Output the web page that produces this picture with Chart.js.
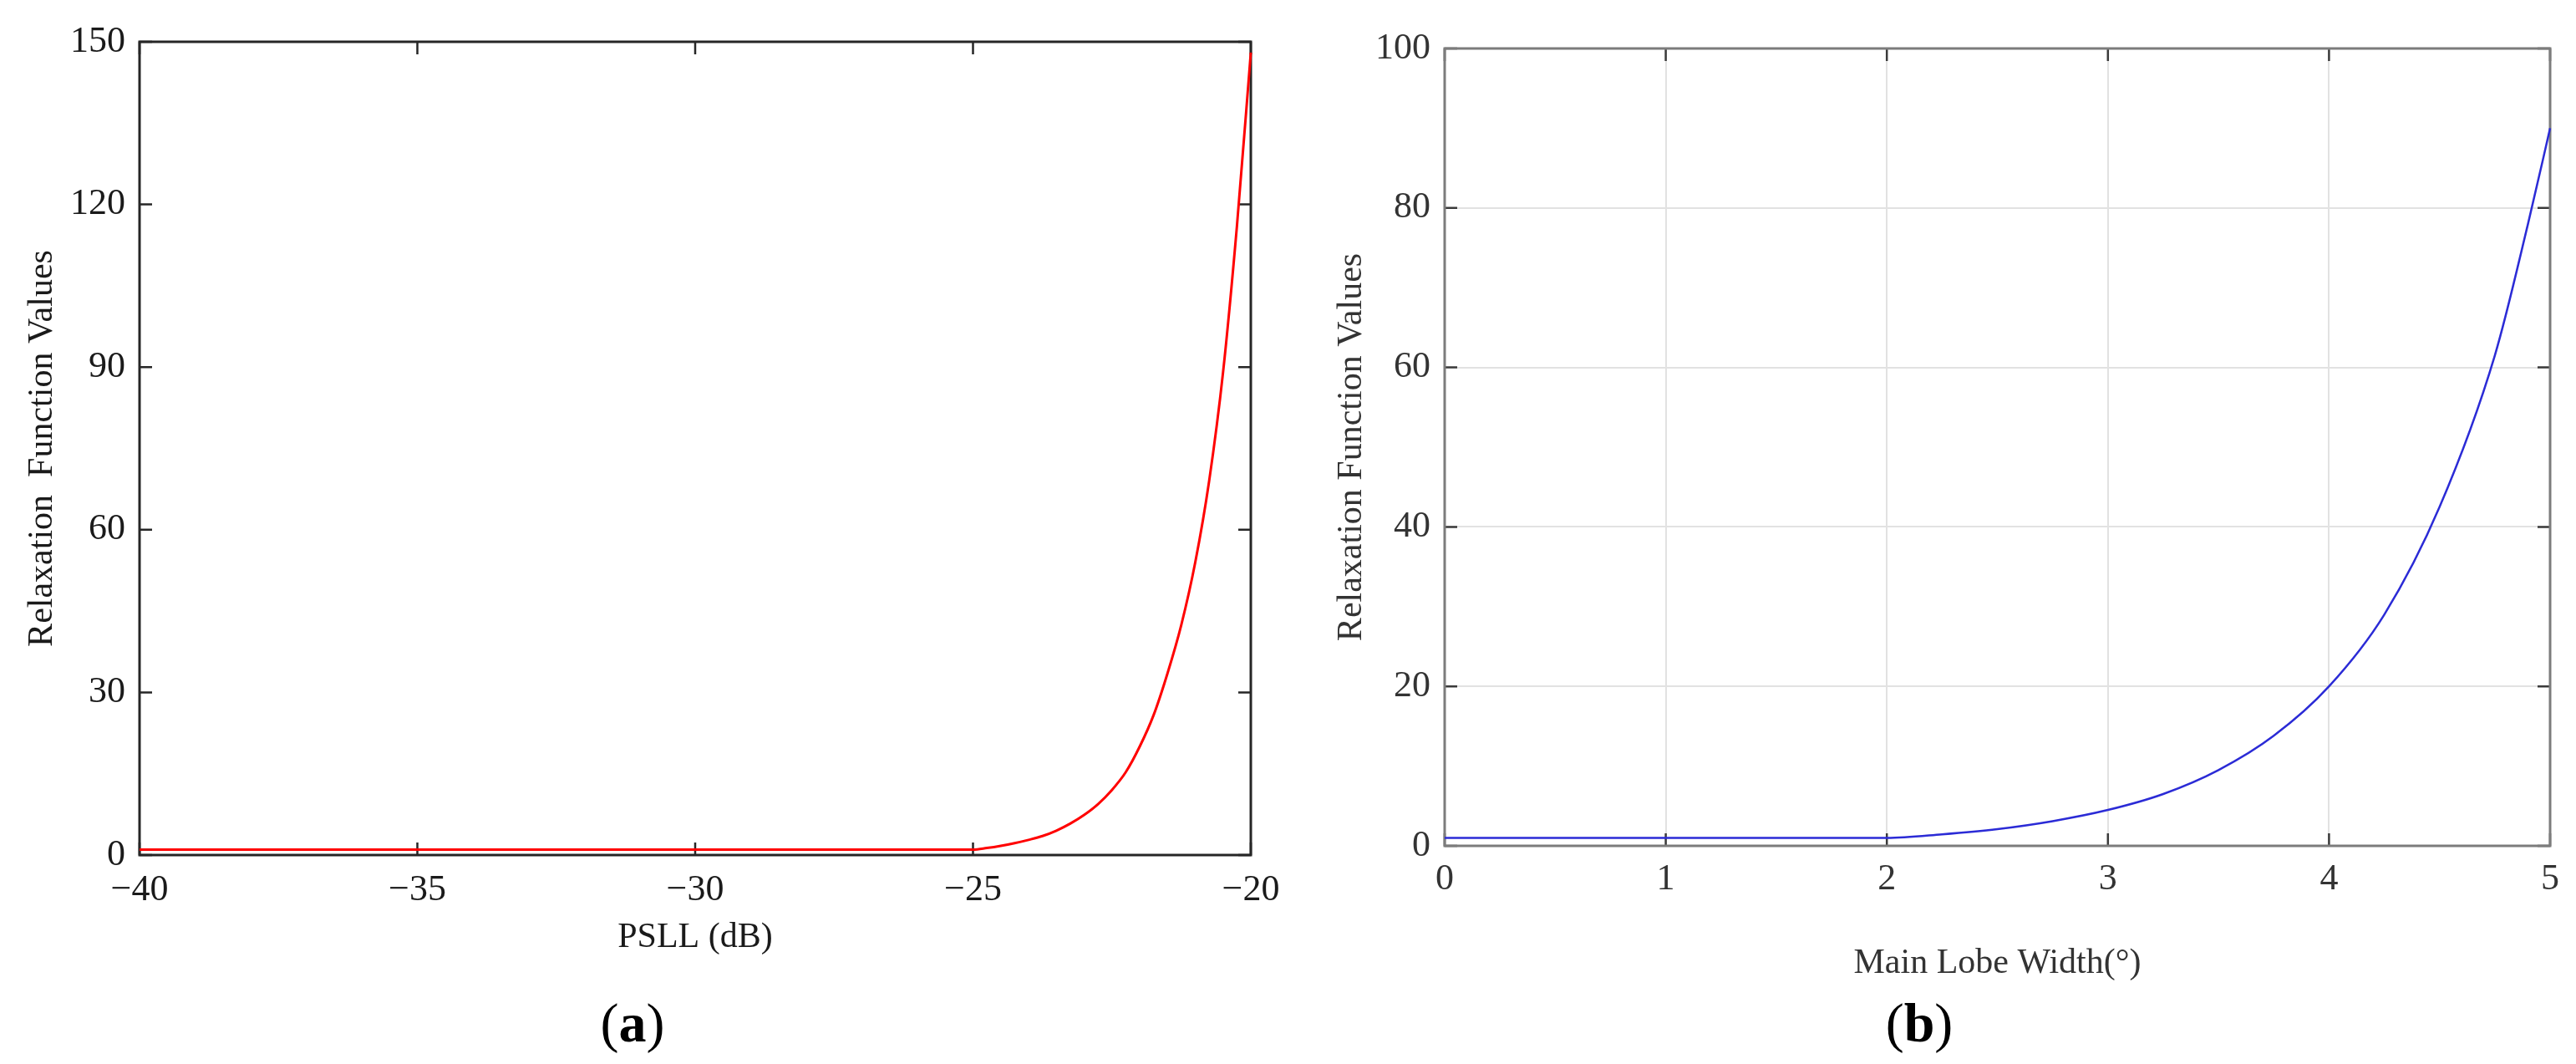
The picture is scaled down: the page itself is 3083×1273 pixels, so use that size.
<!DOCTYPE html>
<html>
<head>
<meta charset="utf-8">
<script src="https://cdn.jsdelivr.net/npm/chart.js@4.4.0/dist/chart.umd.min.js"></script>
<style>
  body { margin: 0; background: #fff; }
  #page { position: relative; width: 3083px; height: 1273px; overflow: hidden; background: #fff; }
  canvas { position: absolute; top: 0; }
  #chartA { left: 0; }
  #chartB { left: 1540px; }
  .tag { position: absolute; top: 1186px; font-family: 'Liberation Serif', serif; font-size: 66px; line-height: 76px; color: #000; transform: translateX(-50%); }
  .tag b { font-weight: bold; }
</style>
</head>
<body>
<div id="page">
  <canvas id="chartA" width="1540" height="1273"></canvas>
  <canvas id="chartB" width="1543" height="1273"></canvas>
  <div class="tag" style="left:757px">(<b>a</b>)</div>
  <div class="tag" style="left:2297px">(<b>b</b>)</div>
</div>
<script>
// (a) relaxation value vs PSLL
const psll   = [-40, -35, -30, -25, -24.75, -24.5, -24.25, -24, -23.75, -23.5, -23.25, -23, -22.75, -22.5, -22.25, -22, -21.75, -21.5, -21.25, -21, -20.75, -20.5, -20.25, -20];
const relaxA = [1, 1, 1, 1, 1.3, 1.7, 2.2, 2.8, 3.5, 4.5, 5.8, 7.4, 9.4, 12.0, 15.3, 20, 25.8, 33.5, 42.5, 54, 69, 89, 116, 148];
const xTicksA = [-40, -35, -30, -25, -20];
const yTicksA = [0, 30, 60, 90, 120, 150];

// (b) relaxation value vs main lobe width
const lobeWidth = [0, 1, 2, 2.25, 2.5, 2.75, 3, 3.25, 3.5, 3.75, 4, 4.25, 4.5, 4.75, 4.9, 5];
const relaxB    = [1, 1, 1, 1.45, 2.1, 3.1, 4.5, 6.5, 9.5, 13.8, 20, 29, 42.5, 61.5, 78, 90];
const xTicksB = [0, 1, 2, 3, 4, 5];
const yTicksB = [0, 20, 40, 60, 80, 100];

const serif = "'Liberation Serif', 'Times New Roman', serif";
const minus = v => v < 0 ? '\u2212' + Math.abs(v) : String(v);

// matlab style box with inward ticks on all four sides
const boxPlugin = {
  id: 'matlabBox',
  beforeDatasetsDraw(chart, args, o) {
    const {ctx, chartArea: a, scales: {x, y}} = chart;
    ctx.save();
    ctx.strokeStyle = o.tickColor;
    ctx.lineWidth = 2.5;
    ctx.beginPath();
    x.ticks.forEach(t => {
      const px = x.getPixelForValue(t.value);
      ctx.moveTo(px, a.bottom); ctx.lineTo(px, a.bottom - o.len);
      ctx.moveTo(px, a.top); ctx.lineTo(px, a.top + o.len);
    });
    y.ticks.forEach(t => {
      const py = y.getPixelForValue(t.value);
      ctx.moveTo(a.left, py); ctx.lineTo(a.left + o.len, py);
      ctx.moveTo(a.right, py); ctx.lineTo(a.right - o.len, py);
    });
    ctx.stroke();
    ctx.strokeStyle = o.color;
    ctx.lineWidth = o.width;
    ctx.strokeRect(a.left, a.top, a.right - a.left, a.bottom - a.top);
    ctx.restore();
  }
};

function makeChart(id, xs, ys, c) {
  return new Chart(document.getElementById(id), {
    type: 'line',
    data: {
      datasets: [{
        data: xs.map((v, i) => ({x: v, y: ys[i]})),
        borderColor: c.line,
        borderWidth: c.lineWidth,
        pointRadius: 0,
        cubicInterpolationMode: 'monotone',
        clip: false
      }]
    },
    options: {
      responsive: false,
      animation: false,
      events: [],
      layout: { padding: c.pad },
      plugins: {
        legend: { display: false },
        tooltip: { enabled: false },
        matlabBox: { color: c.box, tickColor: c.tick, width: 3, len: 15 }
      },
      scales: {
        x: {
          type: 'linear',
          min: c.xTicks[0], max: c.xTicks[c.xTicks.length - 1],
          afterBuildTicks: s => { s.ticks = c.xTicks.map(v => ({value: v})); },
          afterFit: s => { s.height = c.xAxisH; },
          grid: { display: c.grid, color: '#e2e2e2', lineWidth: 2, drawTicks: false },
          border: { display: false },
          // padding 0 so end labels don't shrink the plot; lineHeight pushes labels down instead
          ticks: { padding: 0, color: c.text, font: { family: serif, size: 44, lineHeight: c.xTickLH }, callback: minus, maxRotation: 0 },
          title: { display: true, text: c.xTitle, color: c.text, font: { family: serif, size: 42 }, padding: { bottom: c.xTitlePad } }
        },
        y: {
          type: 'linear',
          min: c.yTicks[0], max: c.yTicks[c.yTicks.length - 1],
          afterBuildTicks: s => { s.ticks = c.yTicks.map(v => ({value: v})); },
          afterFit: s => { s.width = c.yAxisW; },
          grid: { display: c.grid, color: '#e2e2e2', lineWidth: 2, drawTicks: false },
          border: { display: false },
          ticks: { padding: 17, color: c.text, font: { family: serif, size: 44 } },
          title: { display: true, text: c.yTitle, color: c.text, font: { family: serif, size: 42 }, padding: { top: c.yTitlePad } }
        }
      }
    },
    plugins: [boxPlugin]
  });
}

makeChart('chartA', psll, relaxA, {
  line: '#ff0000', lineWidth: 3,
  box: '#262626', tick: '#262626', text: '#1a1a1a', grid: false,
  pad: { left: 0, top: 50, right: 43, bottom: 0 },
  xAxisH: 250, yAxisW: 167, xTickLH: 1.95, xTitlePad: 126, yTitlePad: 26,
  xTicks: xTicksA, yTicks: yTicksA,
  xTitle: 'PSLL (dB)', yTitle: 'Relaxation  Function Values'
});

makeChart('chartB', lobeWidth, relaxB, {
  line: '#2b2bd6', lineWidth: 2.5,
  box: '#7c7c7c', tick: '#3a3a3a', text: '#333333', grid: true,
  pad: { left: 0, top: 58, right: 31, bottom: 0 },
  xAxisH: 261, yAxisW: 189, xTickLH: 1.82, xTitlePad: 95, yTitlePad: 53,
  xTicks: xTicksB, yTicks: yTicksB,
  xTitle: 'Main Lobe Width(\u00b0)', yTitle: 'Relaxation Function Values'
});
</script>
</body>
</html>
